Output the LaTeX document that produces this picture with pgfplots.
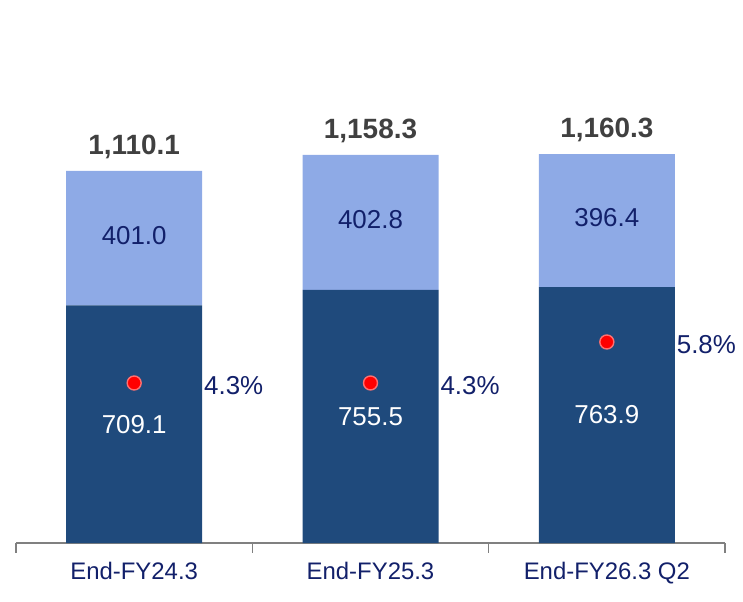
\documentclass[border=0pt]{standalone}
\usepackage{pgfplots}
\pgfplotsset{compat=1.18}
\usepackage{pgfplotstable}
\usepackage{fontspec}
\setmainfont{Liberation Sans}

\definecolor{barDark}{HTML}{1F4A7C}
\definecolor{barLight}{HTML}{8EAAE6}
\definecolor{navy}{HTML}{12206A}
\definecolor{totalGray}{HTML}{404040}
\definecolor{dotRed}{HTML}{FF0000}
\definecolor{dotRim}{HTML}{FF7070}

% balances by period: lower segment, upper segment, ratio (%), total
\pgfplotstableread{
x dark light pct total
0 709.1 401.0 4.3 1110.1
1 755.5 402.8 4.3 1158.3
2 763.9 396.4 5.8 1160.3
}\loans

\pgfplotsset{
  base/.style={
    scale only axis,
    width=709bp, height=523bp,
    xmin=-0.5, xmax=2.5,
    clip=false,
    /pgf/number format/assume math mode=true,
  },
  lbl/.style={draw=none, mark=none, point meta=explicit,
    nodes near coords={\pgfmathprintnumber[fixed,fixed zerofill,precision=1,1000 sep={,}]{\pgfplotspointmeta}}},
}

\begin{document}
\begin{tikzpicture}
\path[use as bounding box] (-16bp,-59bp) rectangle ++(743bp,602bp);
\begin{axis}[
    base,
    name=main,
    ymin=0, ymax=1560.7,
    ybar stacked,
    bar width=136bp,
    axis y line=none,
    axis x line*=bottom,
    x axis line style={draw=gray, line width=1.2bp, -},
    xtick={0,1,2},
    xticklabels={End-FY24.3, End-FY25.3, End-FY26.3 Q2},
    major tick length=0pt,
    extra x ticks={-0.5,0.5,1.5,2.5},
    extra x tick labels={},
    extra x tick style={major tick length=10bp, tick align=outside,
      tick style={draw=gray, line width=1.2bp}},
    xticklabel style={font=\fontsize{24}{28}\selectfont, text=navy, yshift=-16bp},
  ]
\addplot[fill=barDark, draw=none] table[x=x, y=dark] {\loans};
\addplot[fill=barLight, draw=none] table[x=x, y=light] {\loans};
\end{axis}
% value labels
\begin{axis}[
    base,
    at={(main.south west)}, anchor=south west,
    ymin=0, ymax=1560.7,
    hide axis,
  ]
\addplot[lbl, every node near coord/.append style={anchor=center, text=white,
      font=\fontsize{26}{30}\selectfont}]
  table[x=x, y expr=\thisrow{dark}/2, meta=dark] {\loans};
\addplot[lbl, every node near coord/.append style={anchor=center, text=navy,
      font=\fontsize{26}{30}\selectfont, yshift=3bp}]
  table[x=x, y expr=\thisrow{dark}+\thisrow{light}/2, meta=light] {\loans};
\addplot[lbl, every node near coord/.append style={anchor=south, text=totalGray,
      font=\bfseries\fontsize{28}{32}\selectfont, yshift=9bp}]
  table[x=x, y=total, meta=total] {\loans};
\end{axis}
% ratio (%)
\begin{axis}[
    base,
    at={(main.south west)}, anchor=south west,
    ymin=-1.554, ymax=17.58,
    hide axis,
  ]
\addplot[only marks, mark=*, mark size=7bp,
    mark options={fill=dotRed, draw=dotRim, line width=1.4bp},
    nodes near coords={\pgfmathprintnumber[fixed,fixed zerofill,precision=1]{\pgfplotspointmeta}\%},
    point meta=explicit,
    every node near coord/.append style={anchor=west, text=navy,
      font=\fontsize{26}{30}\selectfont, xshift=66bp, yshift=-3bp},
  ] table[x=x, y=pct, meta=pct] {\loans};
\end{axis}
\end{tikzpicture}
\end{document}
